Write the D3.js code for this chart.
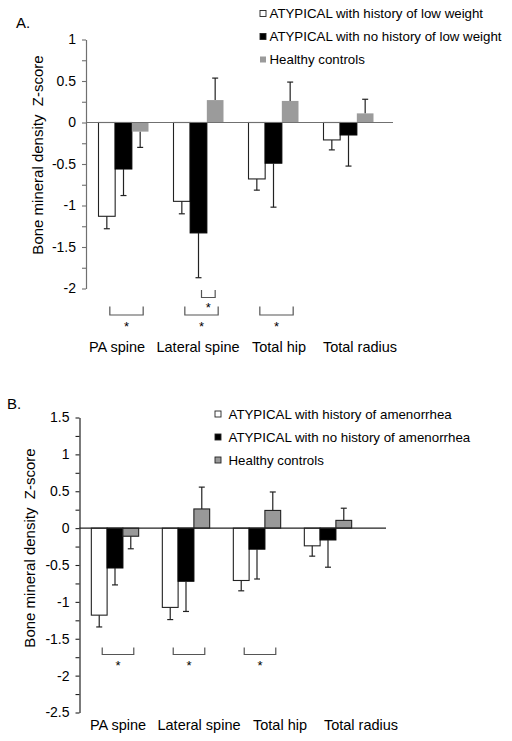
<!DOCTYPE html>
<html>
<head>
<meta charset="utf-8">
<script src="https://cdn.jsdelivr.net/npm/d3@7"></script>
<style>
  html, body { margin: 0; padding: 0; background: #fff; }
  svg { display: block; font-family: "Liberation Sans", Arial, sans-serif; }
</style>
</head>
<body>
<svg id="chart" width="512" height="741"></svg>
<script>
// ---------------- DATA ----------------
const categories = ["PA spine", "Lateral spine", "Total hip", "Total radius"];

// Panel A
const seriesA = ["ATYPICAL with history of low weight", "ATYPICAL with no history of low weight", "Healthy controls"];
const aLowWeight      = [-1.13, -0.95, -0.68, -0.21];
const aLowWeightErr   = [0.15, 0.15, 0.135, 0.12];
const aNoLowWeight    = [-0.56, -1.33, -0.49, -0.15];
const aNoLowWeightErr = [0.32, 0.54, 0.53, 0.375];
const aControls       = [-0.11, 0.27, 0.26, 0.11];
const aControlsErr    = [0.19, 0.265, 0.227, 0.17];
const aTicks = [1, 0.75, 0.5, 0.25, 0, -0.25, -0.5, -0.75, -1, -1.25, -1.5, -1.75, -2];
const aTickLabels = [1, 0.5, 0, -0.5, -1, -1.5, -2];
const aSig = [
  { cat: "PA spine", from: 0, to: 2, level: 0 },
  { cat: "Lateral spine", from: 0, to: 2, level: 0 },
  { cat: "Lateral spine", from: 1, to: 2, level: 1 },
  { cat: "Total hip", from: 0, to: 2, level: 0 }
];

// Panel B
const seriesB = ["ATYPICAL with history of amenorrhea", "ATYPICAL with no history of amenorrhea", "Healthy controls"];
const bAmen        = [-1.18, -1.075, -0.71, -0.24];
const bAmenErr     = [0.16, 0.165, 0.14, 0.14];
const bNoAmen      = [-0.54, -0.72, -0.285, -0.16];
const bNoAmenErr   = [0.23, 0.41, 0.405, 0.37];
const bControls    = [-0.11, 0.26, 0.24, 0.105];
const bControlsErr = [0.17, 0.296, 0.25, 0.165];
const bTicks = [1.5, 1.25, 1, 0.75, 0.5, 0.25, 0, -0.25, -0.5, -0.75, -1, -1.25, -1.5, -1.75, -2, -2.25, -2.5];
const bTickLabels = [1.5, 1, 0.5, 0, -0.5, -1, -1.5, -2, -2.5];
const bSig = [
  { cat: "PA spine", from: 0, to: 2, level: 0 },
  { cat: "Lateral spine", from: 0, to: 2, level: 0 },
  { cat: "Total hip", from: 0, to: 2, level: 0 }
];

const yLabel = "Bone mineral density  Z-score";

// ---------------- DRAW ----------------
const svg = d3.select("#chart");
const FONT = 14.5;

function panel(cfg) {
  const g = svg.append("g");
  const y = d3.scaleLinear().domain(cfg.yDomain).range(cfg.yRange);
  const x = d3.scaleBand().domain(categories).range(cfg.xRange).paddingInner(1 / 3).paddingOuter(1 / 6);
  const xs = d3.scaleBand().domain([0, 1, 2]).range([0, x.bandwidth()]);
  const labelX = d3.scalePoint().domain(categories).range(cfg.labelRange);

  const vals = [cfg.s0, cfg.s1, cfg.s2];
  const errs = [cfg.e0, cfg.e1, cfg.e2];
  const fills = ["#ffffff", "#000000", cfg.grayFill];
  const strokes = ["#222", "#000", cfg.grayStroke];

  // bars
  for (let s = 0; s < 3; s++) {
    g.selectAll(null).data(categories).enter().append("rect")
      .attr("x", c => x(c) + xs(s))
      .attr("width", xs.bandwidth())
      .attr("y", (c, i) => y(Math.max(0, vals[s][i])))
      .attr("height", (c, i) => Math.abs(y(vals[s][i]) - y(0)))
      .attr("fill", fills[s])
      .attr("stroke", strokes[s])
      .attr("stroke-width", strokes[s] === "none" ? 0 : 1.1);
  }
  // error bars (one-sided, away from zero)
  for (let s = 0; s < 3; s++) {
    const eg = g.selectAll(null).data(categories).enter().append("g")
      .attr("stroke", "#222").attr("stroke-width", 1.2);
    const cx = c => x(c) + xs(s) + xs.bandwidth() / 2;
    const end = (i) => vals[s][i] + Math.sign(vals[s][i]) * errs[s][i];
    eg.append("line")
      .attr("x1", cx).attr("x2", cx)
      .attr("y1", (c, i) => y(vals[s][i]))
      .attr("y2", (c, i) => y(end(i)));
    eg.append("line")
      .attr("x1", c => cx(c) - 3).attr("x2", c => cx(c) + 3)
      .attr("y1", (c, i) => y(end(i)))
      .attr("y2", (c, i) => y(end(i)));
  }

  // zero line
  g.append("line")
    .attr("x1", cfg.xRange[0]).attr("x2", cfg.zeroEnd)
    .attr("y1", y(0)).attr("y2", y(0))
    .attr("stroke", cfg.axisColor).attr("stroke-width", 1.2);

  // y axis
  const ax = g.append("g")
    .attr("transform", `translate(${cfg.xRange[0]},0)`)
    .call(d3.axisLeft(y).tickValues(cfg.ticks).tickSize(4).tickSizeOuter(0).tickPadding(6)
      .tickFormat(d => cfg.tickLabels.includes(d) ? String(d) : ""));
  ax.select(".domain").attr("stroke", cfg.axisColor).attr("stroke-width", 1.2);
  ax.selectAll(".tick line").attr("stroke", cfg.axisColor).attr("stroke-width", 1.1);
  ax.selectAll(".tick text").attr("font-size", 14).attr("fill", "#000")
    .attr("font-family", '"Liberation Sans", Arial, sans-serif');

  // category labels
  g.selectAll(null).data(categories).enter().append("text")
    .attr("x", c => labelX(c))
    .attr("y", cfg.catBaseline)
    .attr("text-anchor", "middle")
    .attr("font-size", FONT)
    .text(c => c);

  // significance brackets
  const bottomPx = y(cfg.yDomain[0]);
  cfg.sig.forEach(b => {
    const x1 = x(b.cat) + xs(b.from) + xs.bandwidth() / 2 + 3;
    const x2 = x(b.cat) + xs(b.to) + xs.bandwidth() / 2 + (b.level ? 0 : 3);
    const top = bottomPx + cfg.sigTop[b.level];
    const bot = top + cfg.sigH[b.level];
    g.append("path")
      .attr("d", `M${x1},${top}V${bot}H${x2}V${top}`)
      .attr("fill", "none").attr("stroke", "#555").attr("stroke-width", 1.2);
    g.append("text")
      .attr("x", (x1 + x2) / 2)
      .attr("y", bot + cfg.starGap[b.level] + 0.57 * 13)
      .attr("text-anchor", "middle")
      .attr("font-size", 13)
      .text("*");
  });

  // y label
  g.append("text")
    .attr("transform", `translate(${cfg.yLabelPos[0]},${cfg.yLabelPos[1]}) rotate(-90)`)
    .attr("text-anchor", "middle")
    .attr("dominant-baseline", "central")
    .attr("font-size", 15)
    .style("white-space", "pre")
    .text(yLabel);

  // panel label
  g.append("text")
    .attr("x", cfg.panelPos[0]).attr("y", cfg.panelPos[1])
    .attr("font-size", 15)
    .text(cfg.panelLabel);

  // legend
  const lg = g.selectAll(null).data(cfg.series).enter().append("g")
    .attr("transform", (d, i) => `translate(${cfg.legendX},${cfg.legendY0 + i * cfg.legendStep})`);
  lg.append("rect")
    .attr("x", 0).attr("y", -3).attr("width", 6).attr("height", 6)
    .attr("fill", (d, i) => fills[i])
    .attr("stroke", (d, i) => i === 2 ? cfg.grayStroke : "#222")
    .attr("stroke-width", (d, i) => (i === 2 && cfg.grayStroke === "none") ? 0 : 0.9);
  lg.append("text")
    .attr("x", cfg.legendTextDx).attr("y", 0.36 * 13.3)
    .attr("font-size", 13.3)
    .text(d => d);
}

panel({
  s0: aLowWeight, s1: aNoLowWeight, s2: aControls,
  e0: aLowWeightErr, e1: aNoLowWeightErr, e2: aControlsErr,
  series: seriesA,
  yDomain: [-2, 1], yRange: [288.5, 39.5],
  xRange: [86, 386], zeroEnd: 393,
  labelRange: [117, 360], catBaseline: 351.5,
  ticks: aTicks, tickLabels: aTickLabels,
  grayFill: "#9b9b9b", grayStroke: "none",
  axisColor: "#707070",
  sig: aSig, sigTop: [18, 1.5], sigH: [8.5, 7.5], starGap: [9, 7],
  yLabelPos: [37, 155],
  panelPos: [16, 28], panelLabel: "A.",
  legendX: 260, legendY0: 13.5, legendStep: 23, legendTextDx: 9.5
});

panel({
  s0: bAmen, s1: bNoAmen, s2: bControls,
  e0: bAmenErr, e1: bNoAmenErr, e2: bControlsErr,
  series: seriesB,
  yDomain: [-2.5, 1.5], yRange: [712.5, 417.5],
  xRange: [79.5, 363.5], zeroEnd: 386,
  labelRange: [118, 361], catBaseline: 729.5,
  ticks: bTicks, tickLabels: bTickLabels,
  grayFill: "#999999", grayStroke: "#222",
  axisColor: "#222",
  sig: bSig, sigTop: [-65, 0], sigH: [7, 7], starGap: [8.5, 7],
  yLabelPos: [29, 548],
  panelPos: [7, 409], panelLabel: "B.",
  legendX: 215, legendY0: 414, legendStep: 23, legendTextDx: 13.5
});
</script>
</body>
</html>
